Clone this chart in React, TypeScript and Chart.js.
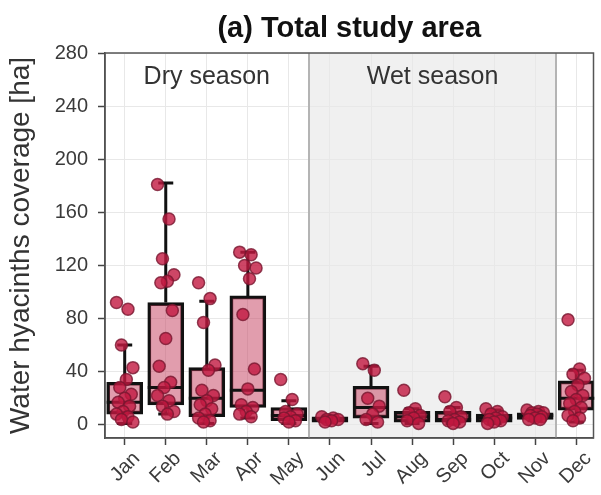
import React, { useEffect, useRef } from 'react';
import { Chart, registerables } from 'chart.js';

Chart.register(...registerables);

const MONTHS = ['Jan', 'Feb', 'Mar', 'Apr', 'May', 'Jun', 'Jul', 'Aug', 'Sep', 'Oct', 'Nov', 'Dec'];
const Y_TICKS = [0, 40, 80, 120, 160, 200, 240, 280];

// observations per month [ha]
const JAN = [92, 87, 60, 43, 34, 28, 23, 20, 17, 14, 10, 8, 6, 4, 2];
const FEB = [181, 155, 125, 113, 108, 107, 86, 65, 44, 32, 28, 22, 18, 14, 10, 8];
const MAR = [107, 95, 77, 45, 41, 26, 22, 18, 15, 12, 8, 5, 3, 2];
const APR = [130, 128, 120, 118, 110, 83, 42, 27, 15, 13, 10, 8, 6];
const MAY = [34, 19, 10, 8, 6, 5, 3, 2];
const JUN = [6, 5, 4, 4, 3, 2];
const JUL = [46, 41, 20, 14, 8, 4, 2];
const AUG = [26, 12, 9, 7, 5, 3, 1];
const SEP = [21, 13, 10, 6, 4, 3, 2, 1];
const OCT = [12, 10, 8, 6, 5, 4, 3, 2, 1];
const NOV = [11, 10, 9, 9, 8, 7, 6, 5, 4, 4];
const DEC = [79, 42, 38, 35, 30, 25, 22, 19, 16, 13, 10, 7, 5, 3];
const POINTS = [JAN, FEB, MAR, APR, MAY, JUN, JUL, AUG, SEP, OCT, NOV, DEC];

// box statistics
const Q1 = [8, 15, 6, 13, 3, 2, 5, 2, 2, 2, 4, 11];
const Q3 = [32, 92, 43, 97, 13, 6, 29, 10, 10, 8, 9, 33];
const MEDIAN = [17, 28, 20, 26, 7, 4, 13, 6, 4, 5, 7, 20];
const WHISK_LO = [1, 8, 1, 5, 1, 2, 1, 1, 1, 1, 3, 2];
const WHISK_HI = [60, 182, 93, 130, 18, 6, 44, 12, 13, 11, 11, 41];

// seasons (month index ranges)
const SEASON_LABELS = ['Dry season', 'Wet season'];
const SEASON_FROM = [-0.5, 4.5];
const SEASON_TO = [4.5, 10.5];
const SHADED_SEASON = [false, true];

const TITLE = '(a) Total study area';
const Y_TITLE = 'Water hyacinths coverage [ha]';

const FONT = "'Liberation Sans', Arial, Helvetica, sans-serif";

const BOX_PX = 36;
const CAP_PX = 15;

function jitter(i: number): number {
  const k = ((i * 7) % 11) / 10 - 0.5;
  return k * 0.4;
}

const decorPlugin = {
  id: 'decor',
  beforeDraw(chart: any) {
    const { ctx, chartArea, scales } = chart;
    const x = scales.x;
    ctx.save();
    ctx.fillStyle = '#ffffff';
    ctx.fillRect(0, 0, chart.width, chart.height);
    for (let s = 0; s < SEASON_LABELS.length; s++) {
      if (!SHADED_SEASON[s]) continue;
      const x0 = x.getPixelForValue(SEASON_FROM[s]);
      const x1 = x.getPixelForValue(SEASON_TO[s]);
      ctx.fillStyle = '#f0f0f0';
      ctx.fillRect(x0, chartArea.top, x1 - x0, chartArea.bottom - chartArea.top);
    }
    ctx.restore();
  },
  beforeDatasetsDraw(chart: any) {
    const { ctx, chartArea, scales } = chart;
    const x = scales.x;
    const y = scales.y;
    ctx.save();
    ctx.strokeStyle = '#b4b4b4';
    ctx.lineWidth = 2;
    for (let s = 0; s < SEASON_LABELS.length; s++) {
      if (!SHADED_SEASON[s]) continue;
      [SEASON_FROM[s], SEASON_TO[s]].forEach((v) => {
        const px = Math.round(x.getPixelForValue(v));
        ctx.beginPath();
        ctx.moveTo(px, chartArea.top);
        ctx.lineTo(px, chartArea.bottom);
        ctx.stroke();
      });
    }
    ctx.fillStyle = '#333333';
    ctx.font = `25px ${FONT}`;
    ctx.textAlign = 'center';
    ctx.textBaseline = 'middle';
    for (let s = 0; s < SEASON_LABELS.length; s++) {
      const cx = x.getPixelForValue((SEASON_FROM[s] + SEASON_TO[s]) / 2);
      ctx.fillText(SEASON_LABELS[s], cx, y.getPixelForValue(262));
    }
    ctx.strokeStyle = '#555555';
    ctx.lineWidth = 1.5;
    ctx.strokeRect(chartArea.left, chartArea.top, chartArea.right - chartArea.left, chartArea.bottom - chartArea.top);
    ctx.restore();
  },
  afterDatasetDraw(chart: any, args: any) {
    if (args.index !== 0) return;
    const { ctx, scales } = chart;
    const x = scales.x;
    const y = scales.y;
    ctx.save();
    ctx.strokeStyle = '#111111';
    ctx.lineWidth = 3;
    ctx.lineCap = 'butt';
    for (let i = 0; i < MONTHS.length; i++) {
      const cx = x.getPixelForValue(i);
      const lo = y.getPixelForValue(WHISK_LO[i]);
      const hi = y.getPixelForValue(WHISK_HI[i]);
      const b = y.getPixelForValue(Q1[i]);
      const t = y.getPixelForValue(Q3[i]);
      const m = y.getPixelForValue(MEDIAN[i]);
      ctx.beginPath();
      ctx.moveTo(cx, t);
      ctx.lineTo(cx, hi);
      ctx.moveTo(cx, b);
      ctx.lineTo(cx, lo);
      ctx.moveTo(cx - CAP_PX / 2, hi);
      ctx.lineTo(cx + CAP_PX / 2, hi);
      ctx.moveTo(cx - CAP_PX / 2, lo);
      ctx.lineTo(cx + CAP_PX / 2, lo);
      ctx.moveTo(cx - BOX_PX / 2, m);
      ctx.lineTo(cx + BOX_PX / 2, m);
      ctx.stroke();
    }
    ctx.restore();
  },
  afterDraw(chart: any) {
    const { ctx, chartArea } = chart;
    ctx.save();
    ctx.fillStyle = '#111111';
    ctx.font = `bold 29px ${FONT}`;
    ctx.textAlign = 'center';
    ctx.textBaseline = 'middle';
    ctx.fillText(TITLE, (chartArea.left + chartArea.right) / 2, 29);
    ctx.restore();
  },
};

export default function App() {
  const ref = useRef<HTMLCanvasElement | null>(null);

  useEffect(() => {
    if (!ref.current) return;
    const boxData = Q1.map((q, i) => ({ x: i, y: [q, Q3[i]] }));
    const pointData: { x: number; y: number }[] = [];
    POINTS.forEach((arr, m) => {
      arr.forEach((v, j) => {
        pointData.push({ x: m + jitter(j), y: v });
      });
    });

    const chart = new Chart(ref.current, {
      type: 'scatter',
      data: {
        datasets: [
          {
            type: 'bar',
            data: boxData as any,
            backgroundColor: 'rgba(196, 60, 92, 0.5)',
            borderColor: '#111111',
            borderWidth: 3,
            borderSkipped: false,
            barThickness: BOX_PX,
            order: 2,
          } as any,
          {
            type: 'scatter',
            data: pointData,
            pointRadius: 6,
            pointBackgroundColor: 'rgba(194, 24, 64, 0.8)',
            pointBorderColor: 'rgba(120, 22, 48, 0.8)',
            pointBorderWidth: 1.5,
            order: 1,
          } as any,
        ],
      },
      options: {
        animation: false,
        responsive: false,
        devicePixelRatio: 1,
        events: [],
        layout: { padding: { top: 53, right: 2, left: 0, bottom: 0 } },
        plugins: {
          legend: { display: false },
          tooltip: { enabled: false },
          title: { display: false },
        },
        scales: {
          x: {
            type: 'linear',
            min: -0.48,
            max: 11.42,
            offset: false,
            afterBuildTicks: (s: any) => {
              s.ticks = MONTHS.map((_, i) => ({ value: i }));
            },
            afterFit: (s: any) => {
              s.height = 57;
              s.paddingLeft = 0;
              s.paddingRight = 0;
            },
            ticks: {
              autoSkip: false,
              minRotation: 45,
              maxRotation: 45,
              labelOffset: 12,
              padding: 2,
              color: '#3a3a3a',
              font: { size: 20, family: FONT },
              callback: (v: any) => MONTHS[Math.round(Number(v))] ?? '',
            },
            grid: {
              offset: false,
              color: '#e8e8e8',
              lineWidth: 1,
              tickColor: '#444444',
              tickLength: 7,
              tickWidth: 1.5,
            },
            border: { color: '#444444', width: 1.5 },
          } as any,
          y: {
            type: 'linear',
            min: -10,
            max: 280,
            afterBuildTicks: (s: any) => {
              s.ticks = Y_TICKS.map((v) => ({ value: v }));
            },
            afterFit: (s: any) => {
              s.width = 105;
            },
            ticks: {
              padding: 10,
              color: '#3a3a3a',
              font: { size: 20, family: FONT },
            },
            grid: {
              color: '#e8e8e8',
              lineWidth: 1,
              tickColor: '#444444',
              tickLength: 7,
              tickWidth: 1.5,
            },
            border: { color: '#444444', width: 1.5 },
            title: {
              display: true,
              text: Y_TITLE,
              color: '#333333',
              font: { size: 28, family: FONT },
              padding: { top: 4, bottom: 0 },
            },
          } as any,
        },
      },
      plugins: [decorPlugin],
    });
    return () => chart.destroy();
  }, []);

  return (
    <div style={{ position: 'fixed', left: 0, top: 0, width: 601, height: 495, background: '#fff' }}>
      <canvas ref={ref} width={601} height={495} style={{ width: 601, height: 495, display: 'block' }} />
    </div>
  );
}
